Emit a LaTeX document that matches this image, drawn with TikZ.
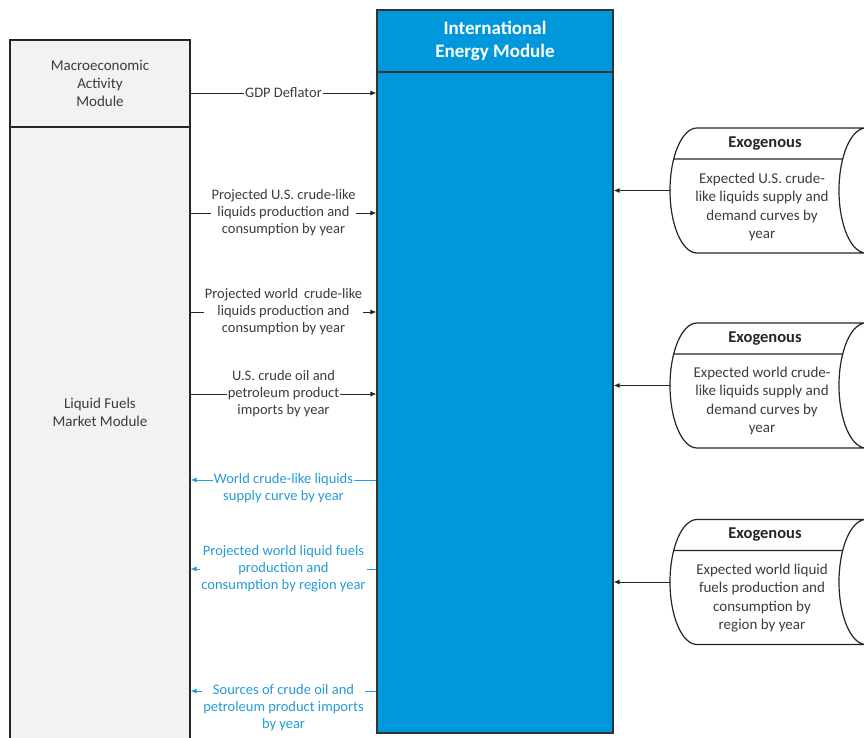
\documentclass[tikz,border=0pt]{standalone}
\usepackage{fontspec}
\setmainfont{Carlito}
\usetikzlibrary{arrows.meta}
\definecolor{iemblue}{RGB}{0,152,218}
\definecolor{boxgray}{RGB}{242,242,242}
\definecolor{flowblue}{RGB}{38,155,215}
\definecolor{textgray}{RGB}{60,60,60}

\begin{document}
\begin{tikzpicture}[x=1pt,y=1pt]
	\tikzstyle{modbox}=[draw=black!85,line width=1.2pt,fill=boxgray,inner sep=0pt,align=center,text=textgray,font=\fontsize{15}{18}\selectfont]
	\tikzstyle{iembox}=[draw=black!80,line width=1.2pt,fill=iemblue,inner sep=0pt]
	\tikzstyle{flow}=[draw=black!85,line width=0.8pt,-{Latex[length=6pt,width=5pt]}]
	\tikzstyle{flowout}=[flow,draw=flowblue]
	\tikzstyle{flowlabel}=[fill=white,inner sep=1pt,align=center,text=textgray,font=\fontsize{14.5}{17}\selectfont]
	\tikzstyle{outlabel}=[flowlabel,text=flowblue]
	\tikzstyle{cylline}=[draw=black!85,line width=1.2pt]
	\tikzstyle{cylhead}=[font=\bfseries\fontsize{16.5}{18}\selectfont,text=black!85]
	\tikzstyle{cyltext}=[align=center,text=textgray,font=\fontsize{15}{18.3}\selectfont]
	\clip (0,0) rectangle (864,737);
	\fill[white] (0,0) rectangle (864,737);
	% modules
	\node[modbox,minimum width=180pt,minimum height=87pt](macro) at (100,653.5) {Macroeconomic\\Activity\\Module};
	\node[modbox,minimum width=180pt,minimum height=640pt](lfm) at (100,290) {};
	\node[align=center,text=textgray,font=\fontsize{15}{18}\selectfont](lfmtext) at (100,325) {Liquid Fuels\\Market Module};
	\node[iembox,minimum width=236pt,minimum height=723pt](iem) at (495,365.5) {};
	\draw[draw=black!80,line width=1.2pt] (iem.west |- 0,665) -- (iem.east |- 0,665);
	\node[align=center,text=white,font=\bfseries\fontsize{19}{23}\selectfont](iemhead) at (495,696) {International\\Energy Module};
	% exogenous inputs
	\draw[cylline] (697,609) arc[start angle=90,end angle=270,x radius=27,y radius=62.5] -- (880,484) (697,609) -- (880,609)
		(866,609) arc[start angle=90,end angle=270,x radius=27,y radius=62.5] (673.7,578) -- (842.7,578);
	\node[cylhead](exo1head) at (765,593.5) {Exogenous};
	\node[cyltext](exo1text) at (762,530) {Expected U.S. crude-\\like liquids supply and\\demand curves by\\year};
	\coordinate (exo1) at (670,546.5);
	\draw[cylline] (697,414) arc[start angle=90,end angle=270,x radius=27,y radius=62.5] -- (880,289) (697,414) -- (880,414)
		(866,414) arc[start angle=90,end angle=270,x radius=27,y radius=62.5] (673.7,383) -- (842.7,383);
	\node[cylhead](exo2head) at (765,398.5) {Exogenous};
	\node[cyltext](exo2text) at (762,336) {Expected world crude-\\like liquids supply and\\demand curves by\\year};
	\coordinate (exo2) at (670,351.5);
	\draw[cylline] (697,217.5) arc[start angle=90,end angle=270,x radius=27,y radius=62.5] -- (880,92.5) (697,217.5) -- (880,217.5)
		(866,217.5) arc[start angle=90,end angle=270,x radius=27,y radius=62.5] (673.7,186.5) -- (842.7,186.5);
	\node[cylhead](exo3head) at (765,202) {Exogenous};
	\node[cyltext](exo3text) at (762,139) {Expected world liquid\\fuels production and\\consumption by\\region by year};
	\coordinate (exo3) at (670,155);
	\draw[flow] (exo1) -- (iem.east |- exo1);
	\draw[flow] (exo2) -- (iem.east |- exo2);
	\draw[flow] (exo3) -- (iem.east |- exo3);
	% flows in
	\draw[flow] (macro.east |- 0,644) -- node[flowlabel]{GDP Deflator} (iem.west |- 0,644);
	\draw[flow] (lfm.east |- 0,524) -- node[flowlabel]{Projected U.S. crude-like\\liquids production and\\consumption by year} (iem.west |- 0,524);
	\draw[flow] (lfm.east |- 0,425) -- node[flowlabel]{Projected world\, crude-like\\liquids production and\\consumption by year} (iem.west |- 0,425);
	\draw[flow] (lfm.east |- 0,343) -- node[flowlabel]{U.S. crude oil and\\petroleum product\\imports by year} (iem.west |- 0,343);
	% flows out
	\draw[flowout] (iem.west |- 0,257) -- node[outlabel,anchor=north,yshift=7.5pt]{World crude-like liquids\\supply curve by year} (lfm.east |- 0,257);
	\draw[flowout] (iem.west |- 0,168) -- node[outlabel]{Projected world liquid fuels\\production and\\consumption by region year} (lfm.east |- 0,168);
	\draw[flowout] (iem.west |- 0,46) -- node[outlabel,anchor=north,yshift=7.5pt]{Sources of crude oil and\\petroleum product imports\\by year} (lfm.east |- 0,46);
\end{tikzpicture}
\end{document}
